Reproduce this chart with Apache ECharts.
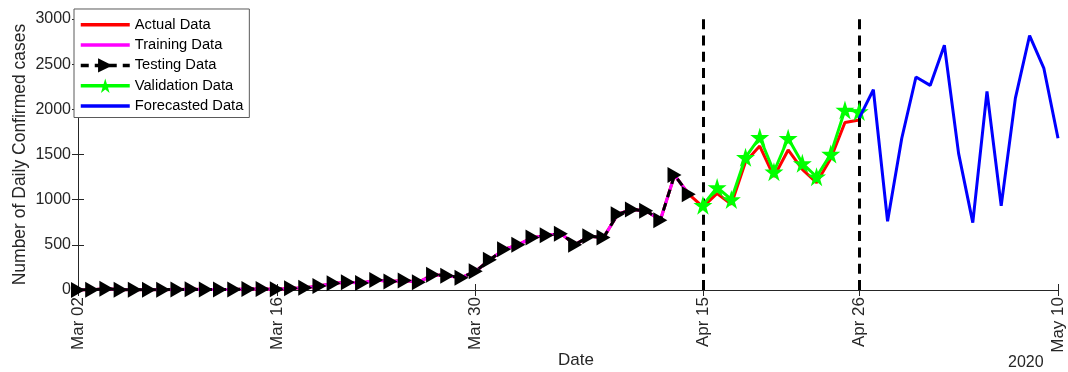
<!DOCTYPE html>
<html>
<head>
<meta charset="utf-8">
<script src="https://cdn.jsdelivr.net/npm/echarts@6/dist/echarts.min.js"></script>
<style>
  html, body { margin: 0; padding: 0; background: #fff; }
  #chart { width: 1068px; height: 372px; }
</style>
</head>
<body>
<div id="chart"></div>
<script>
// Day offsets counted from Mar 02, 2020
const tickDays = [0, 14, 28, 44, 55, 69];
const tickLabels = ['Mar 02', 'Mar 16', 'Mar 30', 'Apr 15', 'Apr 26', 'May 10'];

// Training / testing window: Mar 02 .. Apr 14 (days 0..43)
const trainStart = 0;
const trainValues = [0, 3, 14, 4, 2, 3, 4, 5, 7, 6, 5, 6, 11, 10, 9, 18, 26, 44, 74, 85,
  78, 111, 93, 104, 87, 170, 158, 136, 208, 335, 450, 502, 580, 605, 624, 502, 594, 580,
  839, 891, 876, 772, 1272, 1061];
const testValues = trainValues.slice();

// Reported cases Apr 15 .. Apr 26 (days 44..55)
const validStart = 44;
const actualTail = [920, 1069, 950, 1420, 1594, 1254, 1550, 1335, 1187, 1457, 1854, 1883];
const actualValues = trainValues.concat(actualTail);
const validValues = [939, 1135, 1002, 1469, 1691, 1309, 1680, 1402, 1254, 1505, 1994, 1976];

// Forecast Apr 26 .. May 10 (days 55..69)
const forecastStart = 55;
const forecastValues = [1902, 2217, 761, 1680, 2358, 2265, 2709, 1513, 746, 2198, 931,
  2124, 2817, 2457, 1680];

// Window boundaries drawn as dashed verticals
const boundaryDays = [44, 55];

const pairs = (start, vals) => vals.map((v, i) => [start + i, v]);

const FONT = '"Liberation Sans", Arial, Helvetica, sans-serif';
const AXIS_COLOR = '#262626';
const triangle = 'path://M0,0 L16,9 L0,18 Z';
const star = 'path://M50,0 L61,35 L98,35 L68,57 L79,91 L50,70 L21,91 L32,57 L2,35 L39,35 Z';
// plain-line legend entries: hide the marker, keep the line sample
const noMarker = { color: 'rgba(0,0,0,0)', borderWidth: 0, opacity: 0 };

const chart = echarts.init(document.getElementById('chart'), null, { renderer: 'canvas' });

const xBase = {
  type: 'value', min: 0, max: 69,
  axisLine: { lineStyle: { color: AXIS_COLOR, width: 1 } },
  splitLine: { show: false },
  axisTick: { inside: true, length: 6, customValues: tickDays, lineStyle: { color: AXIS_COLOR } }
};
const yBase = {
  type: 'value', min: 0, max: 3000, interval: 500,
  axisLine: { show: true, lineStyle: { color: AXIS_COLOR, width: 1 } },
  splitLine: { show: false },
  axisTick: { inside: true, length: 6, lineStyle: { color: AXIS_COLOR } }
};

chart.setOption({
  animation: false,
  backgroundColor: '#ffffff',
  textStyle: { fontFamily: FONT },
  grid: { left: 78, top: 19, right: 10, bottom: 82, containLabel: false },
  legend: {
    orient: 'vertical', left: 74, top: 9,
    padding: [8.3, 6, 4, 5],
    itemWidth: 49, itemHeight: 18, itemGap: 5.3, itemTextGap: 5,
    backgroundColor: '#ffffff', borderColor: '#5a5a5a', borderWidth: 1,
    lineStyle: { width: 3.5 },
    textStyle: { fontFamily: FONT, fontSize: 14.7, color: '#000' },
    data: [
      { name: 'Actual Data', itemStyle: noMarker },
      { name: 'Training Data', itemStyle: noMarker },
      { name: 'Testing Data' },
      { name: 'Validation Data' },
      { name: 'Forecasted Data', itemStyle: noMarker }
    ]
  },
  xAxis: [
    Object.assign({}, xBase, {
      position: 'bottom',
      axisLabel: {
        customValues: tickDays, rotate: 90, margin: 7,
        fontFamily: FONT, fontSize: 17, color: AXIS_COLOR,
        formatter: v => tickLabels[tickDays.indexOf(v)] || ''
      }
    }),
    Object.assign({}, xBase, { position: 'top', axisLabel: { show: false } })
  ],
  yAxis: [
    Object.assign({}, yBase, {
      position: 'left',
      name: 'Number of Daily Confirmed cases', nameLocation: 'middle', nameGap: 49,
      nameMoveOverlap: false,
      nameTextStyle: { fontFamily: FONT, fontSize: 17.5, color: AXIS_COLOR },
      axisLabel: { margin: 7, fontFamily: FONT, fontSize: 16, color: AXIS_COLOR,
        formatter: v => String(v) }
    }),
    Object.assign({}, yBase, { position: 'right', axisLabel: { show: false } })
  ],
  graphic: [
    { type: 'text', left: 558, top: 352, style: { text: 'Date', font: '17px ' + FONT, fill: AXIS_COLOR } },
    { type: 'text', left: 1008, top: 355, style: { text: '2020', font: '16px ' + FONT, fill: AXIS_COLOR } }
  ],
  series: [
    {
      name: 'Actual Data', type: 'line', data: pairs(trainStart, actualValues),
      symbol: 'none', color: '#ff0000', lineStyle: { width: 3, color: '#ff0000' }, z: 2
    },
    {
      name: 'Training Data', type: 'line', data: pairs(trainStart, trainValues),
      symbol: 'none', color: '#ff00ff', lineStyle: { width: 3, color: '#ff00ff' }, z: 3
    },
    {
      name: 'Testing Data', type: 'line', data: pairs(trainStart, testValues),
      symbol: triangle, symbolSize: [14, 16], color: '#000000',
      itemStyle: { color: '#000000' },
      lineStyle: { width: 3, color: '#000000', type: [8, 6] }, z: 4,
      markLine: {
        silent: true, symbol: 'none', label: { show: false },
        lineStyle: { color: '#000000', width: 3, type: [10, 6.3] },
        data: boundaryDays.map(d => ({ xAxis: d }))
      }
    },
    {
      name: 'Validation Data', type: 'line', data: pairs(validStart, validValues),
      symbol: star, symbolSize: 19, color: '#00ff00',
      itemStyle: { color: '#00ff00' },
      lineStyle: { width: 3, color: '#00ff00' }, z: 5
    },
    {
      name: 'Forecasted Data', type: 'line', data: pairs(forecastStart, forecastValues),
      symbol: 'none', color: '#0000ff', lineStyle: { width: 3, color: '#0000ff' }, z: 6
    }
  ]
});
</script>
</body>
</html>
